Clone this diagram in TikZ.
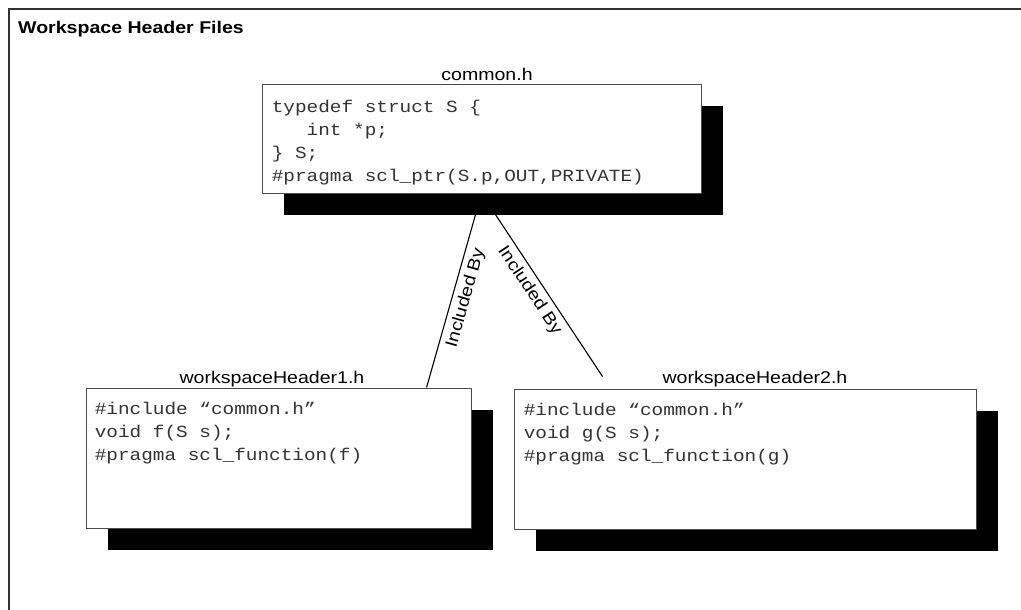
\documentclass[tikz,border=0pt]{standalone}
\usepackage{fontspec}
\setmainfont{Liberation Sans}[FakeStretch=1.15]
\setmonofont{Liberation Mono}[FakeStretch=1.14]
\usetikzlibrary{shadows,backgrounds,calc}

\tikzset{
  frameline/.style={draw=black!80, line width=1.5pt},
  filebox/.style={draw=black!70, line width=0.9pt, fill=white, rectangle, inner sep=0pt,
    drop shadow={shadow xshift=22pt, shadow yshift=-22pt, fill=black, opacity=1}},
  filename/.style={font=\fontsize{17}{20}\selectfont, anchor=base, inner sep=0pt},
  codetext/.style={font=\ttfamily\fontsize{17}{23.3}\selectfont, text=black!80, align=left, anchor=north west, inner sep=0pt},
  conn/.style={draw=black, line width=1.1pt},
  conntext/.style={font=\fontsize{17}{20}\selectfont, inner sep=0pt},
  heading/.style={font=\bfseries\fontsize{17}{20}\selectfont, anchor=base west, inner sep=0pt}
}

\begin{document}
\begin{tikzpicture}[x=1pt, y=-1pt]
  \useasboundingbox (0,0) rectangle (1021,610);

  % outer frame (only top and left edges fall inside the page)
  \draw[frameline] (1021,9) -- (9,9) -- (9,610);
  \node[heading] (heading) at (18,34) {Workspace Header Files};

  % header files
  \node[filebox, minimum width=439pt, minimum height=109pt] (common) at (481.5,138.5) {};
  \node[filebox, minimum width=385pt, minimum height=140pt] (h1) at (278.5,458) {};
  \node[filebox, minimum width=462pt, minimum height=140pt] (h2) at (745,459) {};

  \node[filename] (commonname) at (487,81) {common.h};
  \node[filename] (h1name) at (272,383) {workspaceHeader1.h};
  \node[filename] (h2name) at (755,383) {workspaceHeader2.h};

  \node[codetext] (commoncode) at ($(common.north west)+(10,12)$)
    {\strut typedef struct S \{\\
     \ \ \ int *p;\\
     \} S;\\
     \#pragma scl\_ptr(S.p,OUT,PRIVATE)};
  \node[codetext] (h1code) at ($(h1.north west)+(9,10)$)
    {\strut\#include “common.h”\\
     void f(S s);\\
     \#pragma scl\_function(f)};
  \node[codetext] (h2code) at ($(h2.north west)+(10,10)$)
    {\strut\#include “common.h”\\
     void g(S s);\\
     \#pragma scl\_function(g)};

  % include relations
  \coordinate (h1end) at ($(h1.north west)+(341,0)$);
  \coordinate (h2end) at ($(h2.north west)+(89,-12)$);
  \begin{pgfonlayer}{background}
    \draw[conn] (common.south) -- node[conntext, sloped, below=5pt, pos=0.52] (inc1) {Included By} (h1end);
    \draw[conn] (common.south) -- node[conntext, sloped, below=5pt, pos=0.49] (inc2) {Included By} (h2end);
  \end{pgfonlayer}
\end{tikzpicture}
\end{document}
